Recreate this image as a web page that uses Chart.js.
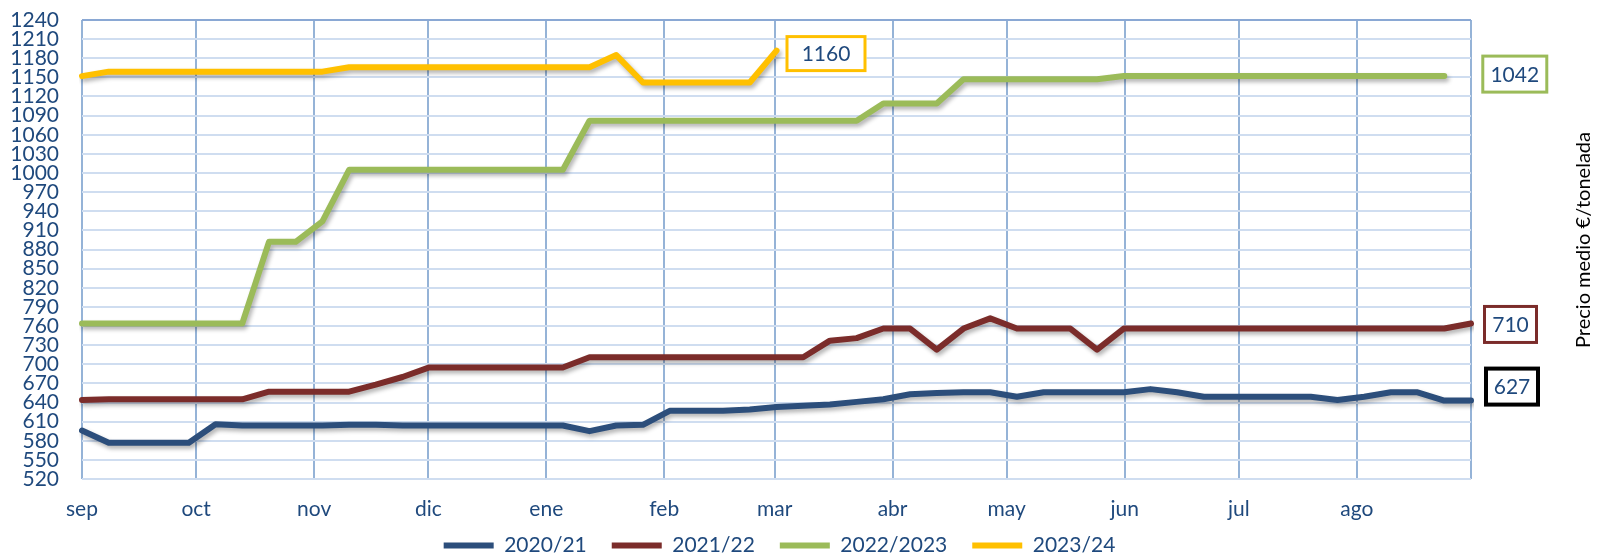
<!DOCTYPE html>
<html>
<head>
<meta charset="utf-8">
<script src="https://cdn.jsdelivr.net/npm/chart.js@4.4.0/dist/chart.umd.min.js"></script>
<style>
  html, body { margin: 0; padding: 0; background: #fff; }
</style>
</head>
<body>
<canvas id="priceChart" width="1597" height="557"></canvas>
<script>
// --- Data ---
// weekly points, 1 Sep -> 31 Aug
const weekLabels = Array.from({ length: 53 }, (_, i) => 'S' + (i + 1));
const monthLabels = ['sep', 'oct', 'nov', 'dic', 'ene', 'feb', 'mar', 'abr', 'may', 'jun', 'jul', 'ago', ''];
const monthStartDays = [0, 30, 61, 91, 122, 153, 182, 213, 243, 274, 304, 335, 365];
const yTickValues = [520, 550, 580, 610, 640, 670, 700, 730, 760, 790, 820, 850, 880, 910, 940, 970,
                     1000, 1030, 1060, 1090, 1120, 1150, 1180, 1210, 1240];

const seasonLabels = ['2020/21', '2021/22', '2022/2023', '2023/24'];

const prices2020 = [596, 577, 577, 577, 577, 606, 604, 604, 604, 604, 605, 605, 604, 604, 604, 604, 604, 604,
                    604, 595, 604, 605, 627, 627, 627, 629, 633, 635, 637, 641, 645, 653, 655, 656, 656, 649,
                    656, 656, 656, 656, 661, 656, 649, 649, 649, 649, 649, 644, 649, 656, 656, 643, 643];
const prices2021 = [644, 645, 645, 645, 645, 645, 645, 657, 657, 657, 657, 668, 680, 695, 695, 695, 695, 695,
                    695, 711, 711, 711, 711, 711, 711, 711, 711, 711, 737, 741, 756, 756, 723, 756, 772, 756,
                    756, 756, 723, 756, 756, 756, 756, 756, 756, 756, 756, 756, 756, 756, 756, 756, 764];
const prices2022 = [764, 764, 764, 764, 764, 764, 764, 892, 892, 924, 1005, 1005, 1005, 1005, 1005, 1005, 1005,
                    1005, 1005, 1082, 1082, 1082, 1082, 1082, 1082, 1082, 1082, 1082, 1082, 1082, 1109, 1109,
                    1109, 1147, 1147, 1147, 1147, 1147, 1147, 1152, 1152, 1152, 1152, 1152, 1152, 1152, 1152,
                    1152, 1152, 1152, 1152, 1152];
const prices2023 = [1152, 1159, 1159, 1159, 1159, 1159, 1159, 1159, 1159, 1159, 1166, 1166, 1166, 1166, 1166,
                    1166, 1166, 1166, 1166, 1166, 1185, 1142, 1142, 1142, 1142, 1142, 1192];

// boxed values shown at the end of each line
const endLabels = ['627', '710', '1042', '1160'];

// --- Styles ---
const TEXT_BLUE = '#1F497D';
const FONT_STACK = 'Lato, "Open Sans", sans-serif';
const seasonColors = ['#2C4E7B', '#7B2C2A', '#9BBB59', '#FFC000'];
// callout box placement relative to the last point of each line
const calloutStyles = [
    { dx: 13, dy: -14, w: 56, h: 40, border: '#000000', lw: 4 },
    { dx: 12, dy: 1, w: 55, h: 39, border: '#7B2C2A', lw: 3 },
    { dx: 37, dy: -2, w: 67, h: 39, border: '#9BBB59', lw: 3 },
    { dx: 9, dy: 3, w: 81, h: 37, border: '#FFC000', lw: 3 }
];

Chart.defaults.font.family = FONT_STACK;
Chart.defaults.color = TEXT_BLUE;

const allSeries = [prices2020, prices2021, prices2022, prices2023];

// soft drop shadow under the lines, like the original
const lineShadow = {
    id: 'lineShadow',
    beforeDatasetsDraw(chart) {
        const ctx = chart.ctx;
        ctx.save();
        ctx.shadowColor = 'rgba(0, 0, 0, 0.3)';
        ctx.shadowBlur = 4;
        ctx.shadowOffsetX = 2;
        ctx.shadowOffsetY = 3;
    },
    afterDatasetsDraw(chart) {
        chart.ctx.restore();
    }
};

// legend keeps a small slot in the layout but is drawn lower, with wide spacing
const legendSlot = {
    id: 'legendSlot',
    afterLayout(chart) {
        const lg = chart.legend;
        lg.top = chart.height - 47;
        lg.bottom = chart.height;
        lg.height = 47;
        lg.left += 3;
        lg.right += 3;
    }
};

const endCallouts = {
    id: 'endCallouts',
    afterDraw(chart) {
        const ctx = chart.ctx;
        ctx.save();
        chart.data.datasets.forEach((ds, i) => {
            const meta = chart.getDatasetMeta(i);
            const last = meta.data[meta.data.length - 1];
            const st = calloutStyles[i];
            const left = last.x + st.dx;
            const top = last.y + st.dy - st.h / 2;
            ctx.fillStyle = '#fff';
            ctx.fillRect(left, top, st.w, st.h);
            ctx.strokeStyle = st.border;
            ctx.lineWidth = st.lw;
            ctx.strokeRect(left + st.lw / 2, top + st.lw / 2, st.w - st.lw, st.h - st.lw);
            ctx.fillStyle = TEXT_BLUE;
            ctx.font = '21px ' + FONT_STACK;
            ctx.textAlign = 'center';
            ctx.textBaseline = 'middle';
            ctx.fillText(endLabels[i], left + st.w / 2, top + st.h / 2 + 1);
        });
        ctx.restore();
    }
};

const sideTitle = {
    id: 'sideTitle',
    afterDraw(chart) {
        const ctx = chart.ctx;
        ctx.save();
        ctx.translate(chart.width - 13, 240);
        ctx.rotate(-Math.PI / 2);
        ctx.fillStyle = '#000';
        ctx.font = '20px ' + FONT_STACK;
        ctx.textAlign = 'center';
        ctx.textBaseline = 'middle';
        ctx.fillText('Precio medio €/tonelada', 0, 0, 236);
        ctx.restore();
    }
};

const priceChart = new Chart(document.getElementById('priceChart'), {
    type: 'line',
    data: {
        labels: weekLabels,
        datasets: allSeries.map((values, i) => ({
            label: seasonLabels[i],
            data: values,
            borderColor: seasonColors[i],
            backgroundColor: seasonColors[i],
            borderWidth: 6,
            borderCapStyle: 'round',
            borderJoinStyle: 'round',
            pointRadius: 0,
            tension: 0,
            fill: false,
            xAxisID: 'x',
            yAxisID: 'y'
        }))
    },
    options: {
        responsive: false,
        animation: false,
        layout: { padding: { top: 20, right: 126, left: 0, bottom: 0 } },
        plugins: {
            tooltip: { enabled: false },
            legend: {
                position: 'bottom',
                fullSize: false,
                maxHeight: 33,
                labels: {
                    usePointStyle: true,
                    pointStyle: 'line',
                    pointStyleWidth: 50,
                    padding: 25,
                    color: TEXT_BLUE,
                    font: { size: 21 }
                }
            }
        },
        scales: {
            x: {
                type: 'category',
                display: false
            },
            xm: {
                type: 'linear',
                position: 'bottom',
                min: 0,
                max: 365,
                afterBuildTicks: (scale) => {
                    scale.ticks = monthStartDays.map(v => ({ value: v }));
                },
                afterFit: (scale) => { scale.height = 45; },
                ticks: {
                    autoSkip: false,
                    maxRotation: 0,
                    padding: 18,
                    font: { size: 21 },
                    callback: (value, index) => monthLabels[index]
                },
                grid: { color: '#95B3D7', lineWidth: 2, drawTicks: false },
                border: { display: false }
            },
            y: {
                min: 520,
                max: 1240,
                afterBuildTicks: (scale) => {
                    scale.ticks = yTickValues.map(v => ({ value: v }));
                },
                afterFit: (scale) => { scale.width = 82; },
                ticks: {
                    autoSkip: false,
                    padding: 0,
                    font: { size: 21 },
                    callback: (value) => String(value)
                },
                grid: {
                    color: (c) => (c.tick && c.tick.value === 1240 ? '#8AA8D4' : '#CFDDF0'),
                    lineWidth: 2,
                    drawTicks: true,
                    tickLength: 23,
                    tickColor: 'rgba(0, 0, 0, 0)'
                },
                border: { display: false }
            }
        }
    },
    plugins: [lineShadow, legendSlot, endCallouts, sideTitle]
});
</script>
</body>
</html>
